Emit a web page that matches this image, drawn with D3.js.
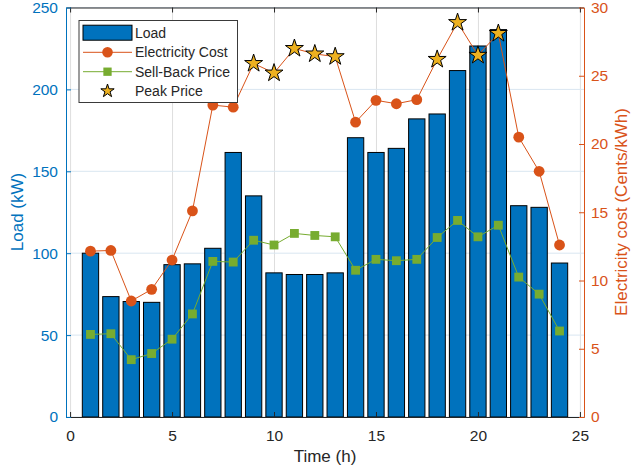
<!DOCTYPE html>
<html>
<head>
<meta charset="utf-8">
<script src="https://cdn.jsdelivr.net/npm/d3@7"></script>
<style>
  html, body { margin: 0; padding: 0; background: #ffffff; }
  svg { display: block; }
  text { font-family: "Liberation Sans", Arial, Helvetica, sans-serif; }
</style>
</head>
<body>
<svg id="chart" width="631" height="471"></svg>
<script>
// Hourly load and tariff data
const hours = [1,2,3,4,5,6,7,8,9,10,11,12,13,14,15,16,17,18,19,20,21,22,23,24];
const loadKW = [100, 73.5, 70.5, 70, 93, 93.5, 103, 161.5, 135, 88, 87, 87, 88,
                170.5, 161.5, 164, 182, 185, 211.5, 226.5, 236.5, 129, 128, 94];
const electricityCost = [12.15, 12.2, 8.5, 9.35, 11.5, 15.1, 22.85, 22.7, 25.9, 25.2, 27.0, 26.6,
                         26.4, 21.6, 23.2, 22.95, 23.25, 26.2, 28.9, 26.5, 28.1, 20.5, 18.0, 12.6];
const sellBackPrice = [6.05, 6.1, 4.2, 4.65, 5.7, 7.55, 11.4, 11.35, 12.95, 12.6, 13.45, 13.3,
                       13.2, 10.75, 11.55, 11.45, 11.55, 13.15, 14.4, 13.2, 14.05, 10.25, 9.0, 6.3];
const peakHours = [9, 10, 11, 12, 13, 18, 19, 20, 21];

const xTicks = [0, 5, 10, 15, 20, 25];
const loadTicks = [0, 50, 100, 150, 200, 250];
const costTicks = [0, 5, 10, 15, 20, 25, 30];
const legendLabels = ["Load", "Electricity Cost", "Sell-Back Price", "Peak Price"];

const C = {
  blue: "#0072BD", orange: "#D95319", green: "#77AC30", gold: "#EDB120",
  dark: "#262626", gridV: "#dedede", gridH: "#d9e6f1"
};

const svg = d3.select("#chart");
const L = 66, R = 584, T = 7.5, B = 417;

const x = d3.scaleLinear().domain([-0.2, 25.2]).range([L, R]);
const yLoad = d3.scaleLinear().domain([0, 250]).range([B, T]);
const yCost = d3.scaleLinear().domain([0, 30]).range([B, T]);

// grid
const grid = svg.append("g");
grid.selectAll("line.gv").data(xTicks).join("line")
  .attr("x1", d => x(d) + 0.5).attr("x2", d => x(d) + 0.5)
  .attr("y1", T).attr("y2", B)
  .attr("stroke", C.gridV).attr("stroke-width", 1);
grid.selectAll("line.gh").data(loadTicks).join("line")
  .attr("x1", L).attr("x2", R)
  .attr("y1", d => yLoad(d)).attr("y2", d => yLoad(d))
  .attr("stroke", C.gridH).attr("stroke-width", 1);

// load bars
const barW = 0.8;
svg.append("g").selectAll("rect").data(hours).join("rect")
  .attr("x", (h) => x(h - barW / 2))
  .attr("width", (h) => x(h + barW / 2) - x(h - barW / 2))
  .attr("y", (h, i) => yLoad(loadKW[i]))
  .attr("height", (h, i) => yLoad(0) - yLoad(loadKW[i]))
  .attr("fill", C.blue).attr("stroke", "#000").attr("stroke-width", 1);

// sell-back price
const sellLine = d3.line().x((d, i) => x(hours[i])).y(d => yCost(d));
svg.append("path").datum(sellBackPrice)
  .attr("d", sellLine).attr("fill", "none")
  .attr("stroke", C.green).attr("stroke-width", 1);
svg.append("g").selectAll("path").data(sellBackPrice).join("path")
  .attr("transform", (d, i) => `translate(${x(hours[i])},${yCost(d)})`)
  .attr("d", d3.symbol(d3.symbolSquare, 78)())
  .attr("fill", C.green);

// electricity cost
const costLine = d3.line().x((d, i) => x(hours[i])).y(d => yCost(d));
svg.append("path").datum(electricityCost)
  .attr("d", costLine).attr("fill", "none")
  .attr("stroke", C.orange).attr("stroke-width", 1);
const offPeak = hours.map((h, i) => ({h, v: electricityCost[i]})).filter(d => !peakHours.includes(d.h));
svg.append("g").selectAll("circle").data(offPeak).join("circle")
  .attr("cx", d => x(d.h)).attr("cy", d => yCost(d.v)).attr("r", 5.4)
  .attr("fill", C.orange);

// peak price stars
const peaks = peakHours.map(h => ({h, v: electricityCost[hours.indexOf(h)]}));
svg.append("g").selectAll("path").data(peaks).join("path")
  .attr("transform", d => `translate(${x(d.h)},${yCost(d.v)})`)
  .attr("d", d3.symbol(d3.symbolStar, 100)())
  .attr("fill", C.gold).attr("stroke", "#000").attr("stroke-width", 1);

// axes
const fs = 15.5;
const axB = svg.append("g").attr("transform", `translate(0,${B})`)
  .call(d3.axisBottom(x).tickValues(xTicks).tickSizeInner(-5).tickSizeOuter(0).tickPadding(13));
const axT = svg.append("g").attr("transform", `translate(0,${T})`)
  .call(d3.axisTop(x).tickValues(xTicks).tickSizeInner(-5).tickSizeOuter(0).tickFormat(""));
[axB, axT].forEach(a => {
  a.select(".domain").attr("stroke", C.dark);
  a.selectAll(".tick line").attr("stroke", C.dark);
  a.selectAll("text").attr("fill", C.dark).attr("font-size", fs).attr("font-family", null);
});
const axL = svg.append("g").attr("transform", `translate(${L},0)`)
  .call(d3.axisLeft(yLoad).tickValues(loadTicks).tickSizeInner(-5).tickSizeOuter(0).tickPadding(8));
axL.select(".domain").attr("stroke", C.blue);
axL.selectAll(".tick line").attr("stroke", C.blue);
axL.selectAll("text").attr("fill", C.blue).attr("font-size", fs).attr("font-family", null);
const axR = svg.append("g").attr("transform", `translate(${R},0)`)
  .call(d3.axisRight(yCost).tickValues(costTicks).tickSizeInner(-5).tickSizeOuter(0).tickPadding(7));
axR.select(".domain").attr("stroke", C.orange);
axR.selectAll(".tick line").attr("stroke", C.orange);
axR.selectAll("text").attr("fill", C.orange).attr("font-size", fs).attr("font-family", null);

// axis titles
svg.append("text").attr("x", (L + R) / 2).attr("y", 462)
  .attr("text-anchor", "middle").attr("font-size", 17).attr("fill", C.dark).text("Time (h)");
svg.append("text").attr("transform", "translate(22.5,212) rotate(-90)")
  .attr("text-anchor", "middle").attr("font-size", 17).attr("fill", C.blue).text("Load (kW)");
svg.append("text").attr("transform", "translate(627,212) rotate(-90)")
  .attr("text-anchor", "middle").attr("font-size", 17).attr("fill", C.orange)
  .text("Electricity cost (Cents/kWh)");

// legend
const lg = svg.append("g");
lg.append("rect").attr("x", 79).attr("y", 20.5).attr("width", 158.5).attr("height", 82)
  .attr("fill", "#fff").attr("stroke", "#3a3a3a").attr("stroke-width", 1);
const rowY = [33, 52.3, 71.7, 91];
const sx0 = 83, sx1 = 132, sxm = 107.5;
lg.append("rect").attr("x", sx0).attr("y", 25.2).attr("width", sx1 - sx0).attr("height", 15)
  .attr("fill", C.blue).attr("stroke", "#000").attr("stroke-width", 1);
lg.append("line").attr("x1", sx0).attr("x2", sx1).attr("y1", rowY[1]).attr("y2", rowY[1])
  .attr("stroke", C.orange).attr("stroke-width", 1);
lg.append("circle").attr("cx", sxm).attr("cy", rowY[1]).attr("r", 5.3).attr("fill", C.orange);
lg.append("line").attr("x1", sx0).attr("x2", sx1).attr("y1", rowY[2]).attr("y2", rowY[2])
  .attr("stroke", C.green).attr("stroke-width", 1);
lg.append("path").attr("transform", `translate(${sxm},${rowY[2]})`)
  .attr("d", d3.symbol(d3.symbolSquare, 69)()).attr("fill", C.green);
lg.append("path").attr("transform", `translate(${sxm},${rowY[3]})`)
  .attr("d", d3.symbol(d3.symbolStar, 55)()).attr("fill", C.gold)
  .attr("stroke", "#000").attr("stroke-width", 1);
lg.selectAll("text").data(legendLabels).join("text")
  .attr("x", 135).attr("y", (d, i) => rowY[i]).attr("dy", "0.36em")
  .attr("font-size", 14).attr("fill", C.dark).text(d => d);
</script>
</body>
</html>
